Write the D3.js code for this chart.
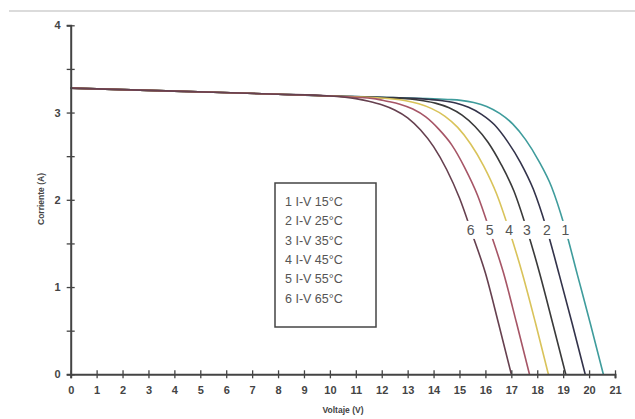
<!DOCTYPE html>
<html>
<head>
<meta charset="utf-8">
<script src="https://cdn.jsdelivr.net/npm/d3@7"></script>
<style>
  body { margin: 0; background: #fff; }
  text { font-family: Arial, "Liberation Sans", sans-serif; }
</style>
</head>
<body>
<div id="chart"></div>
<script>
// curve values: voltage (V) and current (A)
const curve1V = [0, 4, 8, 10, 12, 14.55, 15.05, 15.55, 16.05, 16.55, 17.05, 17.55, 18.05, 18.55, 19.05, 19.55, 20.05, 20.55];
const curve1I = [3.28, 3.245, 3.21, 3.19, 3.175, 3.15, 3.14, 3.115, 3.07, 2.99, 2.87, 2.69, 2.45, 2.15, 1.70, 1.14, 0.58, 0];
const curve2V = [0, 4, 8, 10, 12, 13.85, 14.35, 14.85, 15.35, 15.85, 16.35, 16.85, 17.35, 17.85, 18.35, 18.85, 19.35, 19.85];
const curve2I = [3.28, 3.245, 3.21, 3.19, 3.175, 3.15, 3.135, 3.11, 3.06, 2.98, 2.86, 2.67, 2.43, 2.12, 1.68, 1.14, 0.58, 0];
const curve3V = [0, 4, 8, 10, 12, 13.1, 13.6, 14.1, 14.6, 15.1, 15.6, 16.1, 16.6, 17.1, 17.6, 18.1, 18.6, 19.1];
const curve3I = [3.28, 3.245, 3.21, 3.19, 3.17, 3.155, 3.135, 3.105, 3.055, 2.97, 2.84, 2.66, 2.41, 2.10, 1.66, 1.15, 0.58, 0];
const curve4V = [0, 4, 8, 10, 12.43, 12.93, 13.43, 13.93, 14.43, 14.93, 15.43, 15.93, 16.43, 16.93, 17.43, 17.93, 18.43];
const curve4I = [3.28, 3.245, 3.21, 3.19, 3.155, 3.135, 3.10, 3.045, 2.96, 2.83, 2.64, 2.39, 2.07, 1.64, 1.15, 0.59, 0];
const curve5V = [0, 4, 8, 10, 11.7, 12.2, 12.7, 13.2, 13.7, 14.2, 14.7, 15.2, 15.7, 16.2, 16.7, 17.2, 17.7];
const curve5I = [3.28, 3.245, 3.21, 3.19, 3.16, 3.13, 3.095, 3.04, 2.95, 2.81, 2.63, 2.37, 2.05, 1.62, 1.16, 0.59, 0];
const curve6V = [0, 4, 8, 10, 11, 11.5, 12, 12.5, 13, 13.5, 14, 14.5, 15, 15.5, 16, 16.5, 17];
const curve6I = [3.28, 3.245, 3.21, 3.19, 3.16, 3.13, 3.09, 3.03, 2.94, 2.80, 2.61, 2.35, 2.02, 1.60, 1.16, 0.59, 0];

const curveNames = ["1", "2", "3", "4", "5", "6"];
const legendLabels = ["1 I-V 15°C", "2 I-V 25°C", "3 I-V 35°C", "4 I-V 45°C", "5 I-V 55°C", "6 I-V 65°C"];
const colors = ["#3f9c9c", "#33334a", "#3a3a3a", "#d9c35a", "#a65566", "#66404f"];
const xTicks = d3.range(0, 22);
const yTicks = [0, 0.5, 1, 1.5, 2, 2.5, 3, 3.5, 4];
const labelCurrent = 1.655; // the numbers on the curves sit at this height

const curves = [
  [curve1V, curve1I], [curve2V, curve2I], [curve3V, curve3I],
  [curve4V, curve4I], [curve5V, curve5I], [curve6V, curve6I]
].map(([v, c], k) => ({ name: curveNames[k], color: colors[k], pts: v.map((d, i) => [d, c[i]]) }));

const svg = d3.select("#chart")
  .append("svg")
    .attr("width", 635)
    .attr("height", 419);

// thin frame line at the top of the picture
svg.append("line")
  .attr("x1", 9).attr("x2", 635).attr("y1", 11).attr("y2", 11)
  .attr("stroke", "#cfcfcf").attr("stroke-width", 1.5);

const x = d3.scaleLinear().domain([0, 21]).range([70.7, 615]);
const y = d3.scaleLinear().domain([0, 4]).range([374.3, 25.3]);

const line = d3.line()
  .x(d => x(d[0]))
  .y(d => y(d[1]))
  .curve(d3.curveMonotoneX);

svg.append("g").selectAll("path")
  .data(curves)
  .enter().append("path")
    .attr("d", d => line(d.pts))
    .attr("fill", "none")
    .attr("stroke", d => d.color)
    .attr("stroke-width", 1.6);

// curve numbers, placed where each curve reaches labelCurrent
const lab = svg.append("g").selectAll("g")
  .data(curves)
  .enter().append("g")
    .attr("transform", d => {
      const p = d.pts;
      let v = p[p.length - 1][0];
      for (let i = 1; i < p.length; i++) {
        if (p[i][1] <= labelCurrent) {
          const t = (p[i - 1][1] - labelCurrent) / (p[i - 1][1] - p[i][1]);
          v = p[i - 1][0] + t * (p[i][0] - p[i - 1][0]);
          break;
        }
      }
      return `translate(${x(v)},${y(labelCurrent)})`;
    });
lab.append("rect")
  .attr("x", -6).attr("y", -9).attr("width", 12).attr("height", 18)
  .attr("fill", "#fff");
lab.append("text")
  .attr("text-anchor", "middle")
  .attr("y", 5)
  .attr("font-size", 14)
  .attr("fill", "#555")
  .text(d => d.name);

// x axis
const xAxis = svg.append("g")
  .attr("transform", `translate(0,${y(0)})`)
  .call(d3.axisBottom(x).tickValues(xTicks).tickFormat(d3.format("d")).tickSize(4).tickPadding(8));
xAxis.select(".domain").attr("stroke", "#444").attr("stroke-width", 2);
xAxis.selectAll(".tick line").attr("y1", -4).attr("y2", 4).attr("stroke", "#444").attr("stroke-width", 1.3);
xAxis.selectAll(".tick text").attr("font-size", 11).attr("fill", "#444").attr("font-weight", "bold");

// y axis, half-unit ticks, labels on whole units
const yAxis = svg.append("g")
  .attr("transform", `translate(${x(0)},0)`)
  .call(d3.axisLeft(y).tickValues(yTicks).tickFormat(d => Number.isInteger(d) ? d : "").tickSize(4).tickPadding(6));
yAxis.select(".domain").attr("stroke", "#444").attr("stroke-width", 2);
yAxis.selectAll(".tick line").attr("x1", -4).attr("x2", 4).attr("stroke", "#444").attr("stroke-width", 1.3);
yAxis.selectAll(".tick text").attr("font-size", 11).attr("fill", "#444").attr("font-weight", "bold");

// axis titles
svg.append("text")
  .attr("x", 343).attr("y", 413)
  .attr("text-anchor", "middle")
  .attr("font-size", 8.5).attr("font-weight", "bold").attr("fill", "#444")
  .text("Voltaje (V)");
svg.append("text")
  .attr("transform", "translate(44,199) rotate(-90)")
  .attr("text-anchor", "middle")
  .attr("font-size", 8.5).attr("font-weight", "bold").attr("fill", "#444")
  .text("Corriente (A)");

// legend box
svg.append("rect")
  .attr("x", 275).attr("y", 183).attr("width", 101).attr("height", 144)
  .attr("fill", "#fff").attr("stroke", "#444").attr("stroke-width", 1.5);
svg.append("g").selectAll("text")
  .data(legendLabels)
  .enter().append("text")
    .attr("x", 285)
    .attr("y", (d, i) => 206 + i * 19.3)
    .attr("font-size", 12.5)
    .attr("fill", "#555")
    .text(d => d);
</script>
</body>
</html>
